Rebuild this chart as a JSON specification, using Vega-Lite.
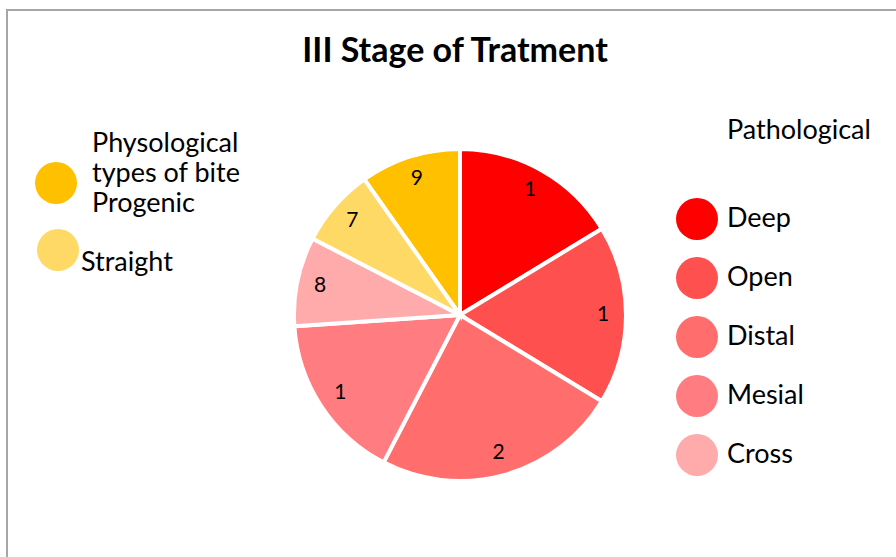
{
  "$schema": "https://vega.github.io/schema/vega-lite/v6.json",
  "width": 906,
  "height": 610,
  "autosize": {"type": "none"},
  "padding": {"left": 7, "top": 10, "right": 0, "bottom": 0},
  "background": "white",
  "title": {"text": "III Stage of Tratment", "offset": -60, "fontSize": 34, "font": "Lato", "fontWeight": "bold", "color": "black", "anchor": "middle", "dx": -5},
  "data": {"values": [
    {"category": "Deep", "group": "Pathological", "value": 15, "label": "1", "order": 1},
    {"category": "Open", "group": "Pathological", "value": 16, "label": "1", "order": 2},
    {"category": "Distal", "group": "Pathological", "value": 22, "label": "2", "order": 3},
    {"category": "Mesial", "group": "Pathological", "value": 15, "label": "1", "order": 4},
    {"category": "Cross", "group": "Pathological", "value": 8, "label": "8", "order": 5},
    {"category": "Straight", "group": "Physiological", "value": 7, "label": "7", "order": 6},
    {"category": "Progenic", "group": "Physiological", "value": 9, "label": "9", "order": 7}
  ]},
  "transform": [
    {"stack": "value", "groupby": [], "as": ["v0", "v1"], "sort": [{"field": "order", "order": "ascending"}]},
    {"calculate": "(datum.v0 + datum.v1) / 2", "as": "mid"}
  ],
  "layer": [
    {
      "data": {"values": [{}]},
      "transform": [],
      "mark": {"type": "rect", "fill": "transparent", "stroke": "#a6a6a6", "strokeWidth": 2},
      "encoding": {}
    },
    {
      "transform": [{"filter": "datum.group == 'Pathological'"}],
      "mark": {"type": "arc", "outerRadius": 166, "stroke": "white", "strokeWidth": 4},
      "encoding": {
        "theta": {"field": "v0", "type": "quantitative", "stack": null, "scale": {"domain": [0, 92], "nice": false}},
        "theta2": {"field": "v1"},
        "color": {
          "field": "category", "type": "nominal",
          "scale": {"domain": ["Deep", "Open", "Distal", "Mesial", "Cross"], "range": ["#ff0000", "#ff5050", "#ff6d6d", "#ff7c80", "#ffabab"]},
          "legend": {
            "orient": "none", "legendX": 720, "legendY": 108,
            "title": "Pathological", "titleFont": "Lato", "titleFontSize": 27, "titleFontWeight": "normal", "titleColor": "black", "titlePadding": 53,
            "symbolType": "circle", "symbolSize": 1764, "symbolStrokeWidth": 0, "symbolOpacity": 1, "symbolOffset": -51,
            "labelFont": "Lato", "labelFontSize": 27, "labelColor": "black", "labelOffset": 9, "rowPadding": 17, "labelLimit": 300
          }
        }
      }
    },
    {
      "transform": [{"filter": "datum.category == 'Progenic'"}],
      "mark": {"type": "arc", "outerRadius": 166, "stroke": "white", "strokeWidth": 4},
      "encoding": {
        "theta": {"field": "v0", "type": "quantitative", "stack": null, "scale": {"domain": [0, 92], "nice": false}},
        "theta2": {"field": "v1"},
        "color": {
          "field": "category", "type": "nominal",
          "scale": {"domain": ["Progenic"], "range": ["#ffc000"]},
          "legend": {
            "orient": "none", "legendX": 85, "legendY": 121,
            "title": ["Physological", "types of bite"], "titleFont": "Lato", "titleFontSize": 27, "titleFontWeight": "normal", "titleColor": "black", "titleLineHeight": 30, "titlePadding": -26,
            "symbolType": "circle", "symbolSize": 1764, "symbolStrokeWidth": 0, "symbolOpacity": 1, "symbolOffset": -57,
            "labelFont": "Lato", "labelFontSize": 27, "labelColor": "black", "labelOffset": 15, "labelBaseline": "alphabetic", "labelLimit": 300,
            "labelExpr": "['', datum.label]"
          }
        }
      }
    },
    {
      "transform": [{"filter": "datum.category == 'Straight'"}],
      "mark": {"type": "arc", "outerRadius": 166, "stroke": "white", "strokeWidth": 4},
      "encoding": {
        "theta": {"field": "v0", "type": "quantitative", "stack": null, "scale": {"domain": [0, 92], "nice": false}},
        "theta2": {"field": "v1"},
        "color": {
          "field": "category", "type": "nominal",
          "scale": {"domain": ["Straight"], "range": ["#ffd966"]},
          "legend": {
            "orient": "none", "legendX": 30, "legendY": 219, "title": null,
            "symbolType": "circle", "symbolSize": 1764, "symbolStrokeWidth": 0, "symbolOpacity": 1,
            "labelFont": "Lato", "labelFontSize": 27, "labelColor": "black", "labelOffset": 2, "labelBaseline": "top", "labelLimit": 300
          }
        }
      }
    },
    {
      "mark": {"type": "text", "radius": 143, "font": "Lato", "fontSize": 21, "color": "black"},
      "encoding": {
        "theta": {"field": "mid", "type": "quantitative", "stack": null, "scale": {"domain": [0, 92], "nice": false}},
        "text": {"field": "label"}
      }
    }
  ],
  "resolve": {"scale": {"color": "independent"}, "legend": {"color": "independent"}},
  "config": {"view": {"stroke": "#a6a6a6", "strokeWidth": 2}}
}
